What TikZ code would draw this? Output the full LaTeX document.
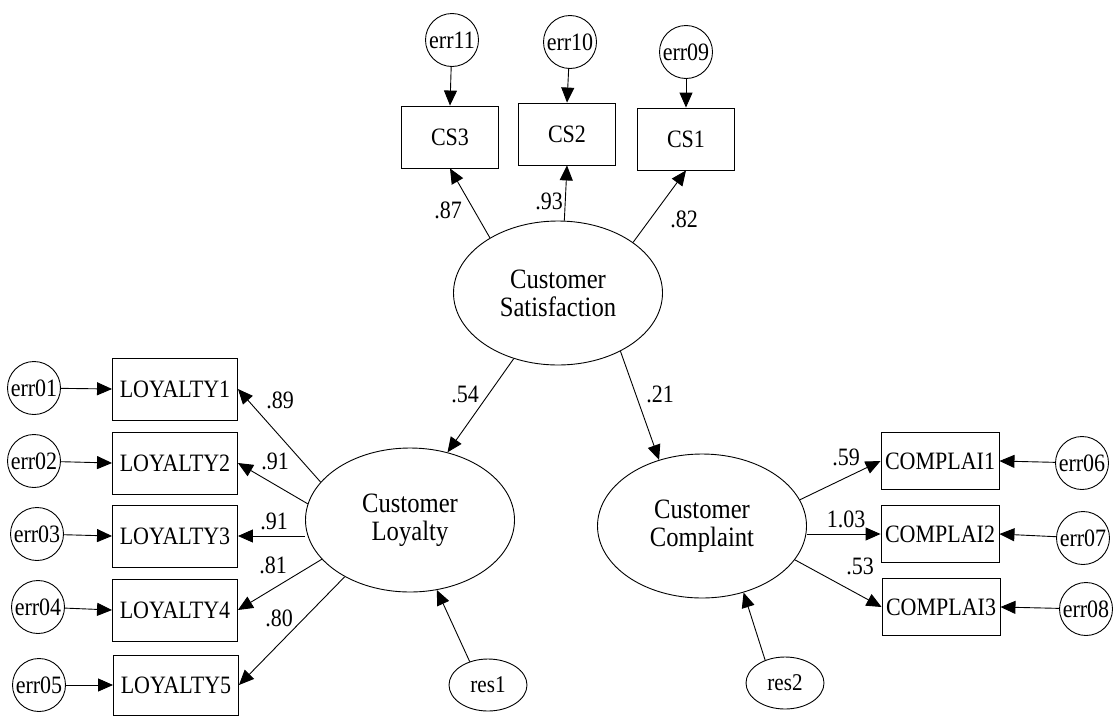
\documentclass[tikz,border=0pt]{standalone}
\usepackage{fontspec}
\setmainfont{Liberation Serif}[FakeStretch=0.88]
\usetikzlibrary{shapes.geometric,arrows.meta}

\tikzset{
  lat/.style={ellipse, draw, line width=0.9pt, minimum width=209pt, minimum height=144pt,
    inner sep=0pt, align=center, font=\fontsize{28}{28}\selectfont},
  obs/.style={rectangle, draw, line width=0.9pt, minimum height=62pt, inner sep=0pt,
    font=\fontsize{25}{25}\selectfont},
  errc/.style={circle, draw, line width=0.9pt, minimum size=53pt, inner sep=0pt,
    font=\fontsize{25}{25}\selectfont},
  resid/.style={ellipse, draw, line width=0.9pt, minimum width=78pt, minimum height=52pt,
    inner sep=0pt, font=\fontsize{24}{24}\selectfont},
  path/.style={line width=0.9pt, -{Triangle[length=15pt,width=13pt]}},
  coef/.style={font=\fontsize{25}{25}\selectfont, inner sep=0pt}
}

\begin{document}
\begin{tikzpicture}[x=1pt,y=-1pt]
\useasboundingbox (0,0) rectangle (1115,715);

% latent variables
\node[lat] (sat)  at (558,293) {Customer\\Satisfaction};
\node[lat] (loy)  at (410,520) {Customer\\Loyalty};
\node[lat] (comp) at (702,526) {Customer\\Complaint};

% satisfaction indicators
\node[obs, minimum width=97pt] (cs3) at (450,137) {CS3};
\node[obs, minimum width=97pt] (cs2) at (567,134) {CS2};
\node[obs, minimum width=97pt] (cs1) at (686,139) {CS1};
\node[errc] (e11) at (452,40) {err11};
\node[errc] (e10) at (570,42) {err10};
\node[errc] (e09) at (686,52) {err09};

% loyalty indicators
\node[obs, minimum width=125pt] (l1) at (175,389) {LOYALTY1};
\node[obs, minimum width=125pt] (l2) at (175,463) {LOYALTY2};
\node[obs, minimum width=125pt] (l3) at (175,536) {LOYALTY3};
\node[obs, minimum width=125pt] (l4) at (175,610) {LOYALTY4};
\node[obs, minimum width=125pt, minimum height=60pt] (l5) at (176,685) {LOYALTY5};
\node[errc] (e01) at (34,388) {err01};
\node[errc] (e02) at (34,461) {err02};
\node[errc] (e03) at (37,534) {err03};
\node[errc] (e04) at (38,607) {err04};
\node[errc] (e05) at (39,685) {err05};

% complaint indicators
\node[obs, minimum width=118pt, minimum height=57pt] (c1) at (940,461) {COMPLAI1};
\node[obs, minimum width=118pt, minimum height=57pt] (c2) at (940,534) {COMPLAI2};
\node[obs, minimum width=118pt, minimum height=57pt] (c3) at (941,607) {COMPLAI3};
\node[errc] (e06) at (1082,463) {err06};
\node[errc] (e07) at (1083,538) {err07};
\node[errc] (e08) at (1086,609) {err08};

% structural residuals
\node[resid] (r1) at (488,685) {res1};
\node[resid] (r2) at (785,683) {res2};

% error terms
\draw[path] (e11) -- (cs3.north);
\draw[path] (e10) -- (cs2.north);
\draw[path] (e09) -- (cs1.north);
\draw[path] (e01) -- (l1.west);
\draw[path] (e02) -- (l2.west);
\draw[path] (e03) -- (l3.west);
\draw[path] (e04) -- (l4.west);
\draw[path] (e05) -- (l5.west);
\draw[path] (e06) -- (c1.east);
\draw[path] (e07) -- (c2.east);
\draw[path] (e08) -- (c3.east);

% measurement paths
\draw[path] (sat.141) -- (cs3.south);
\draw[path] (sat.85)  -- (cs2.south);
\draw[path] (sat.34)  -- (cs1.south);
\draw[path] (loy.157) -- (l1.east);
\draw[path] (loy.171) -- (l2.east);
\draw[path] (l3.east -| loy.west) -- (l3.east);
\draw[path] (loy.204) -- (l4.east);
\draw[path] (loy.221) -- (l5.east);
\draw[path] (comp.15) -- (c1.west);
\draw[path] (c2.west -| comp.east) -- (c2.west);
\draw[path] (comp.340) -- (c3.west);

% structural paths
\draw[path] (sat.236) -- (loy.61);
\draw[path] (sat.317) -- (comp.123);
\draw[path] (r1.128) -- (loy.291);
\draw[path] (r2.131) -- (comp.302);

% coefficients
\node[coef] (k1)  at (448,210) {.87};
\node[coef] (k2)  at (549,201) {.93};
\node[coef] (k3)  at (684,219) {.82};
\node[coef] (k4)  at (465,394) {.54};
\node[coef] (k5)  at (660,394) {.21};
\node[coef] (k6)  at (280,400) {.89};
\node[coef] (k7)  at (275,461) {.91};
\node[coef] (k8)  at (274,521) {.91};
\node[coef] (k9)  at (273,565) {.81};
\node[coef] (k10) at (279,618) {.80};
\node[coef] (k11) at (846,457) {.59};
\node[coef] (k12) at (846,519) {1.03};
\node[coef] (k13) at (860,566) {.53};
\end{tikzpicture}
\end{document}
